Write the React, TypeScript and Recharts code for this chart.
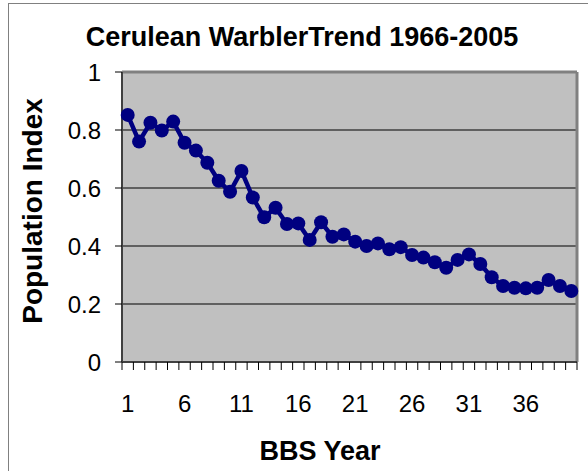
import React from 'react';
import { LineChart, Line, XAxis, YAxis, CartesianGrid, ReferenceLine } from 'recharts';

const years = [
  1, 2, 3, 4, 5, 6, 7, 8, 9, 10, 11, 12, 13, 14, 15, 16, 17, 18, 19, 20,
  21, 22, 23, 24, 25, 26, 27, 28, 29, 30, 31, 32, 33, 34, 35, 36, 37, 38, 39, 40,
];

const populationIndex = [
  0.852, 0.76, 0.825, 0.798, 0.829, 0.756, 0.729, 0.687, 0.625, 0.587,
  0.659, 0.567, 0.499, 0.532, 0.476, 0.478, 0.421, 0.482, 0.432, 0.44,
  0.415, 0.4, 0.409, 0.389, 0.396, 0.369, 0.36, 0.344, 0.325, 0.352,
  0.371, 0.338, 0.292, 0.262, 0.256, 0.254, 0.256, 0.283, 0.262, 0.245,
];

const xLabels = [1, 6, 11, 16, 21, 26, 31, 36];
const yTicks = [0, 0.2, 0.4, 0.6, 0.8, 1];

const data = years.map((year, i) => ({ year, index: populationIndex[i] }));

// tick marks sit on the category boundaries, labels on the category centres
const boundaries = [...years.map(y => y - 0.5), years[years.length - 1] + 0.5];
const xTicks = [...boundaries, ...xLabels];

const FONT = '"Liberation Sans", Arial, sans-serif';

function XTick({ x, y, payload }: any) {
  const v = payload.value;
  if (Number.isInteger(v)) {
    return (
      <text x={x} y={y + 50} textAnchor="middle" fontFamily={FONT} fontSize={24} fill="#000">
        {v}
      </text>
    );
  }
  return <line x1={x} y1={y} x2={x} y2={y + 8} stroke="#000" strokeWidth={1} />;
}

export default function App() {
  return (
    <div style={{ position: 'absolute', left: 0, top: 0, width: 588, height: 471, overflow: 'hidden', background: '#fff' }}>
      <div style={{ position: 'absolute', left: 8, top: 3, width: 700, height: 600, border: '1px solid #808080' }} />
      <div style={{ position: 'absolute', left: 0, top: 0 }}>
        <LineChart width={588} height={471} data={data} margin={{ top: 72, right: 11, bottom: 0, left: 0 }}>
          <CartesianGrid vertical={false} stroke="#000" fill="#c0c0c0" fillOpacity={1} />
          <XAxis
            dataKey="year"
            type="number"
            domain={[0.5, 40.5]}
            ticks={xTicks}
            interval={0}
            tick={<XTick />}
            tickLine={false}
            tickSize={0}
            tickMargin={0}
            height={109}
            axisLine={{ stroke: '#404040', strokeWidth: 2 }}
          />
          <YAxis
            domain={[0, 1]}
            ticks={yTicks}
            interval={0}
            width={122}
            tickSize={7}
            tickMargin={14}
            tickLine={{ stroke: '#000' }}
            axisLine={{ stroke: '#404040', strokeWidth: 2 }}
            tick={{ fontFamily: FONT, fontSize: 24, fill: '#000' }}
          />
          <ReferenceLine y={1} stroke="#808080" strokeWidth={3} />
          <ReferenceLine x={40.5} stroke="#808080" strokeWidth={3} />
          <Line
            dataKey="index"
            stroke="#000080"
            strokeWidth={4.5}
            dot={{ r: 7, fill: '#000080', stroke: 'none' }}
            isAnimationActive={false}
          />
        </LineChart>
      </div>
      <svg width={588} height={471} style={{ position: 'absolute', left: 0, top: 0, pointerEvents: 'none' }}>
        <text x={302} y={46} textAnchor="middle" fontFamily={FONT} fontSize={27} fontWeight="bold" fill="#000">
          Cerulean WarblerTrend 1966-2005
        </text>
        <text
          x={42}
          y={211}
          textAnchor="middle"
          fontFamily={FONT}
          fontSize={28}
          fontWeight="bold"
          fill="#000"
          transform="rotate(-90, 42, 211)"
        >
          Population Index
        </text>
        <text x={320} y={460} textAnchor="middle" fontFamily={FONT} fontSize={27} fontWeight="bold" fill="#000">
          BBS Year
        </text>
      </svg>
    </div>
  );
}
